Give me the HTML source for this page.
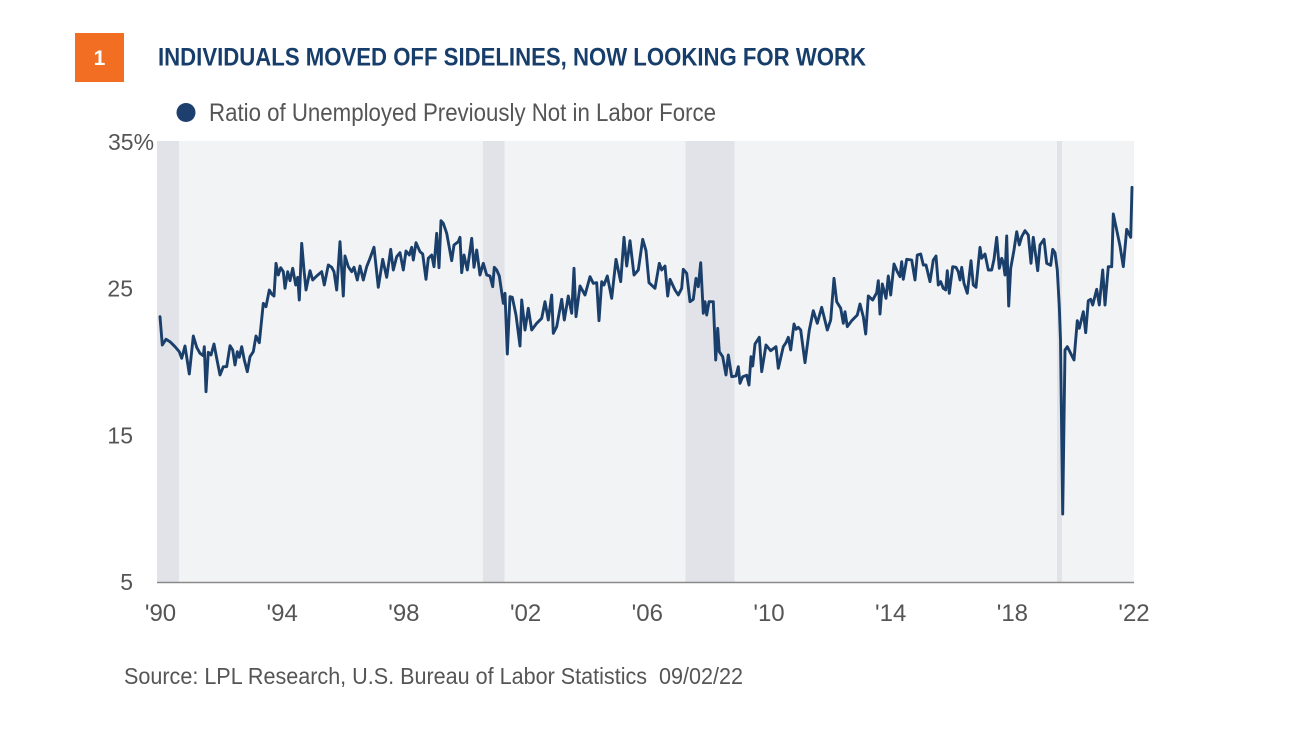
<!DOCTYPE html>
<html>
<head>
<meta charset="utf-8">
<style>
  html, body { margin: 0; padding: 0; background: #ffffff; }
  body { width: 1294px; height: 732px; overflow: hidden; }
  svg { display: block; }
  text { font-family: "Liberation Sans", sans-serif; }
</style>
</head>
<body>
<svg width="1294" height="732" viewBox="0 0 1294 732" xmlns="http://www.w3.org/2000/svg">
  <rect x="0" y="0" width="1294" height="732" fill="#ffffff"/>

  <!-- Header -->
  <rect x="75" y="33" width="49" height="49" fill="#F26E22"/>
  <text x="99.5" y="65" font-size="21" font-weight="bold" fill="#ffffff" text-anchor="middle">1</text>
  <text x="158" y="65.5" font-size="25" font-weight="bold" fill="#173E6B" textLength="708" lengthAdjust="spacingAndGlyphs">INDIVIDUALS MOVED OFF SIDELINES, NOW LOOKING FOR WORK</text>

  <!-- Legend -->
  <circle cx="186" cy="112.5" r="9.5" fill="#1C3F6E"/>
  <text x="209" y="121" font-size="25" fill="#555555" textLength="507" lengthAdjust="spacingAndGlyphs">Ratio of Unemployed Previously Not in Labor Force</text>

  <!-- Plot area -->
  <rect x="157" y="141" width="977" height="441" fill="#F2F3F5"/>
  <!-- Recession bands -->
  <rect x="157" y="141" width="22" height="441" fill="#E1E3E8"/>
  <rect x="483" y="141" width="21.5" height="441" fill="#E1E3E8"/>
  <rect x="685.5" y="141" width="49" height="441" fill="#E1E3E8"/>
  <rect x="1057" y="141" width="5" height="441" fill="#E1E3E8"/>

  <!-- Axis line -->
  <line x1="157" y1="582.5" x2="1134" y2="582.5" stroke="#8a8a8a" stroke-width="1.6"/>

  <!-- Y labels -->
  <text x="108" y="150" font-size="23" fill="#555555">35%</text>
  <text x="133" y="296.5" font-size="23" fill="#555555" text-anchor="end">25</text>
  <text x="133" y="443.5" font-size="23" fill="#555555" text-anchor="end">15</text>
  <text x="133" y="590" font-size="23" fill="#555555" text-anchor="end">5</text>

  <!-- X labels -->
  <g font-size="24" fill="#555555" text-anchor="middle">
    <text x="160.5" y="621">'90</text>
    <text x="282.2" y="621">'94</text>
    <text x="403.9" y="621">'98</text>
    <text x="525.6" y="621">'02</text>
    <text x="647.3" y="621">'06</text>
    <text x="769" y="621">'10</text>
    <text x="890.7" y="621">'14</text>
    <text x="1012.4" y="621">'18</text>
    <text x="1134" y="621">'22</text>
  </g>

  <!-- Series -->
  <polyline fill="none" stroke="#1B3F6B" stroke-width="2.9" stroke-linejoin="round" stroke-linecap="round" points="
160,316.7 162.3,345 166,339.3 170,341.7 175,346.7 179.3,351.7 181.7,358.3 185,346 189.3,374 193.3,336 196.7,347.3 200,353.3 203.3,355.7 204.3,346.7 206,391.7 208.3,352.3 211,355 214,344 216.7,358.3 220,375 223.3,366.7 226.7,366.7 230,345.7 232.7,350 235,365 237.3,351.7 239.3,357.3 241.7,346.7 244.3,360 247.3,371.7 250,356.7 253.3,351.7 256,336 259.3,342.7 263.3,303.3 266,306.7 269.3,290 271.7,294 274,296 276,263.3 278.3,275 280.7,267.7 283.3,271.7 285,288.3 287.7,271.7 290,280.7 292.7,268.3 295.7,285 297.7,277.3 299.3,300 301.7,243.3 304,270 306,290 310,270.7 312.7,280 316.7,276 321.7,271.7 324.3,285 328.3,265 331.7,267.3 334,271.7 336.7,290
340,241.7 343.3,296 345,256 348.3,266.7 351.7,271.7 354,267.3 357.3,280 360,266 363.3,280 366.7,266.7 370,258.3 374,247.3 378.3,287.3 382.7,259.3 386.7,277.3 390.7,249.3 393.3,270 396.7,256.7 400,252.7 403.3,270 406,251 409.3,255 411.7,247.3 413.3,260 416,242.7 420,251.7 422.7,254 426,279.3 428.3,258.3 431.7,255 434,266.7 436.7,233.3 439,267.7 441,220.7 443.3,223.3 446.7,233.3 451.7,260.7 454,245 458.3,241.7 460,237.3 461.7,272.7 464,255 467.3,270 471.7,238.3 474,267.3 476.7,250 480,275 483.3,263.3 486.7,275 490,276 492.7,286.7 494.3,267.3 496.7,270 499.3,276 503.3,303.3 505,293.3 507.3,354 510,296.7 512.3,297.3 516,315 520,346
521.7,300 525,330 528.3,308.3 531.7,330 536.7,323.3 541.7,318.3 545,301.7 548.3,320 551.7,295 553.3,333.3 556.7,326.7 561.7,299.3 564.3,320 568.3,296 571.7,313.3 574,268.3 576,316.7 580,286 585,295 590,276.7 593.3,283.3 596.7,282.7 599,320.7 601.7,281.7 604,285 607.3,276 611.7,298.3 616,259.3 620.7,281.7 624,237.3 626.7,266 630,240.7 634,275 638.3,270 642.7,239.3 646,250.7 649,282.7 655,288.3 659.3,263.3 661.7,270 665,266 667.7,296 670,279.3 675,290 678.3,295 681.7,288.3 683.3,269.3 686.7,273.3 690,301.7 693.3,299.3 696,278.3 698.3,286.7 700.7,262.7 703.3,313.3 705,301.7 706.7,315 709,301.7 713.3,301.7 715.7,360 717.7,328.3 719.3,351.7 722.7,356.7 726,375 728.3,355 731.7,376.7 736,376 738.3,366.7 740,383.3 742.7,376.7 746.7,375.3 749,385 751,356.7 752.7,366 755,344 759.3,337.3 761.7,371.7 766,345 770.7,350.7 776,346.7 778.3,368.3 783.3,346.7 786,342.7 788.3,337.3 790.7,350 794,324 796,329.3 798.3,327.3 800.7,330 805,362.7 809.3,330 813.3,310.7 817.3,323.3 821.7,307.3 827.3,330 830.7,320 834,278.3 836.7,301.7 840.7,308.3 843.3,323.3 845,311.7 847.3,326.7 851.7,320.7 857.3,315 860,304 863.3,316.7 865.7,334 868.3,296 872.7,300 876.7,292.7 878.3,280.7 880,314 882.3,284 886,298.3 888.3,276 890.7,295 894,264 897.3,271.7
900,276.7 901.7,261.7 903.3,279.3 906.7,259.3 911.7,260 915,280 917.3,255 920.7,254 923.3,265 926,265 930,281.7 933.3,260 936,256 938.3,285 940.7,281.7 943.3,288.3 945.7,290 947.3,270.7 949.3,293.3 952.7,266.7 956,267.3 958.3,271.7 960,280 961.7,267.3 964,283.3 967.3,293.3 971,260.7 973.3,285 976,287.3 980,247.3 981.7,258.3 985,254 988.3,270 991.7,270 994,259.3 996.7,237.3 999.3,268.3 1001.7,258.3 1003.3,262.7 1005,275 1006.7,236 1008.7,306 1010.7,268.3 1014,250 1016.7,231.7 1019.3,245 1021.7,236.7 1025,230.7 1028.3,235 1031,263.3 1033.3,237.3 1037.7,270.7 1040,245 1044,239.3 1046.7,263.3 1050.7,265.3 1052.7,249.3 1055,252.7 1057.3,270 1059.3,306.7 1060.5,340 1062.7,514 1065,350 1067.3,346.7 1074,360 1077.3,320.7 1079.3,328.3 1083.3,311.7 1085.7,332.7 1088.3,300.7 1090.7,299.3 1092.7,305 1096.7,289.3 1099.3,305 1102.7,270 1105,305 1108.3,266.7 1111.7,266.7 1113.3,214 1116.7,230 1120,246 1123.3,266.7 1126.7,229.3 1130.7,237.3 1132,187.3"/>

  <!-- Footer -->
  <text x="124" y="684" font-size="23" fill="#555555" textLength="619" lengthAdjust="spacingAndGlyphs">Source: LPL Research, U.S. Bureau of Labor Statistics &#160;09/02/22</text>
</svg>
</body>
</html>
